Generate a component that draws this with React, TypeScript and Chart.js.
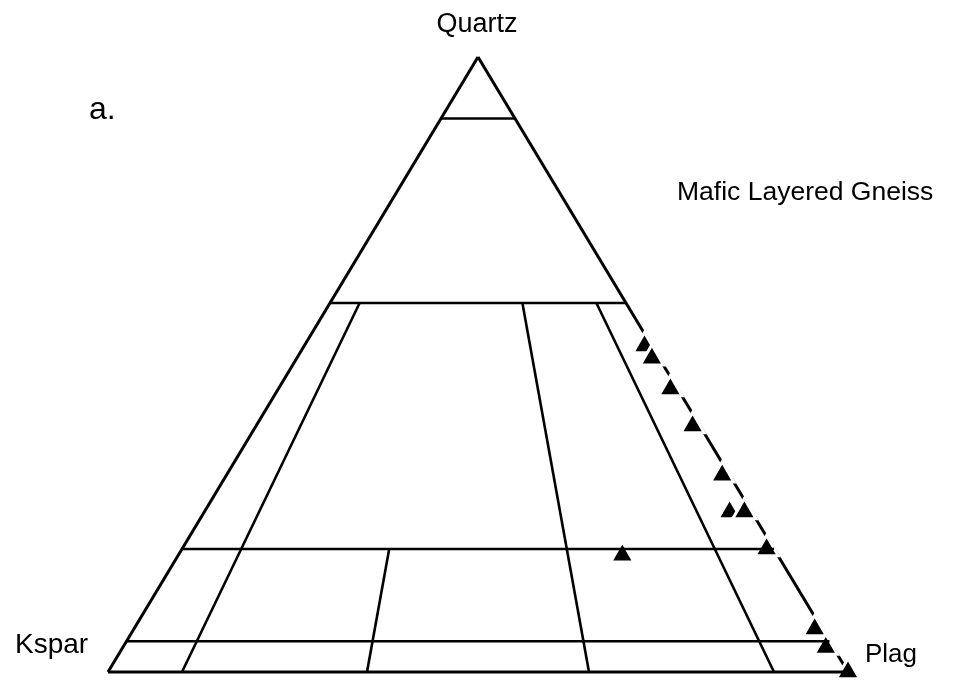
import React, { useEffect, useRef } from "react";
import { Chart, registerables } from "chart.js";

Chart.register(...registerables);

// Modal composition of each sample, in percent
const quartz = [53, 51, 46, 40, 32, 26, 26, 20, 19, 7, 4, 0];
const plag = [46, 48, 53, 59, 67, 71, 73, 79, 60, 92, 95, 100];
const kspar = [1, 1, 1, 1, 1, 3, 1, 1, 21, 1, 1, 0];

// Streckeisen field boundaries
const quartzLevels = [90, 60, 20, 5];
const plagRatios = [10, 35, 65, 90]; // 100 * P / (A + P)
const ratioTopQuartz = [60, 20, 60, 60];

const apexLabels = ["Quartz", "Kspar", "Plag"];
const sampleTitle = "Mafic Layered Gneiss";
const panelLabel = "a.";

type Pt = { x: number; y: number };

// ternary (Q, P, A) -> cartesian, Kspar at the origin, Plag at x = 100
function toXY(q: number, p: number, a: number): Pt {
  const s = q + p + a;
  return { x: ((p + q / 2) / s) * 100, y: (q / s) * 100 };
}

const FONT = "'Liberation Sans', Arial, Helvetica, sans-serif";

const labelPlugin = {
  id: "qapLabels",
  beforeDraw(chart: Chart) {
    const { ctx, width, height } = chart;
    ctx.save();
    ctx.fillStyle = "#ffffff";
    ctx.fillRect(0, 0, width, height);
    ctx.restore();
  },
  afterDraw(chart: Chart) {
    const ctx = chart.ctx;
    ctx.save();
    ctx.fillStyle = "#000000";
    ctx.textBaseline = "alphabetic";
    ctx.font = `27px ${FONT}`;
    ctx.textAlign = "center";
    ctx.fillText(apexLabels[0], 477, 32);
    ctx.textAlign = "left";
    ctx.font = `28px ${FONT}`;
    ctx.fillText(apexLabels[1], 15, 653);
    ctx.font = `26px ${FONT}`;
    ctx.fillText(apexLabels[2], 865, 662);
    ctx.font = `26.5px ${FONT}`;
    ctx.fillText(sampleTitle, 677, 200);
    ctx.font = `32px ${FONT}`;
    ctx.fillText(panelLabel, 89, 119);
    ctx.restore();
  },
};

export default function App() {
  const canvasRef = useRef<HTMLCanvasElement | null>(null);

  useEffect(() => {
    const canvas = canvasRef.current;
    if (!canvas) return;

    const lineSet = (pts: Pt[], width = 3, order = 1) => ({
      type: "line" as const,
      data: pts,
      showLine: true,
      borderColor: "#000000",
      borderWidth: width,
      pointRadius: 0,
      fill: false,
      tension: 0,
      order,
    });

    const datasets: any[] = [];

    // triangle outline
    datasets.push(lineSet([toXY(0, 0, 100), toXY(100, 0, 0)], 3));
    datasets.push(lineSet([toXY(0, 0, 100), toXY(0, 100, 0)], 3));
    // Q-P side sits under the sample markers
    datasets.push(lineSet([toXY(100, 0, 0), toXY(0, 100, 0)], 3, 3));

    // horizontal quartz boundaries
    quartzLevels.forEach((q) => {
      datasets.push(lineSet([toXY(q, 0, 100 - q), toXY(q, 100 - q, 0)], 2.6));
    });

    // plagioclase-ratio boundaries
    plagRatios.forEach((r, i) => {
      const qt = ratioTopQuartz[i];
      const rest = 100 - qt;
      datasets.push(
        lineSet(
          [toXY(qt, (rest * r) / 100, (rest * (100 - r)) / 100), toXY(0, r, 100 - r)],
          2.6
        )
      );
    });

    // samples
    datasets.push({
      type: "scatter" as const,
      data: quartz.map((q, i) => toXY(q, plag[i], kspar[i])),
      pointStyle: "triangle",
      pointRadius: 13.5,
      backgroundColor: "#000000",
      borderColor: "#ffffff",
      borderWidth: 3,
      showLine: false,
      order: 2,
    });

    const chart = new Chart(canvas, {
      type: "scatter",
      data: { datasets },
      options: {
        animation: false,
        responsive: true,
        maintainAspectRatio: false,
        layout: { padding: 0, autoPadding: false },
        plugins: {
          legend: { display: false },
          tooltip: { enabled: false },
        },
        scales: {
          x: { type: "linear", min: -14.595, max: 114.73, display: false },
          y: { type: "linear", min: -2.602, max: 109.268, display: false },
        },
      },
      plugins: [labelPlugin],
    });

    return () => chart.destroy();
  }, []);

  return (
    <div
      style={{
        position: "fixed",
        left: 0,
        top: 0,
        width: 957,
        height: 688,
        background: "#ffffff",
      }}
    >
      <canvas ref={canvasRef} />
    </div>
  );
}
